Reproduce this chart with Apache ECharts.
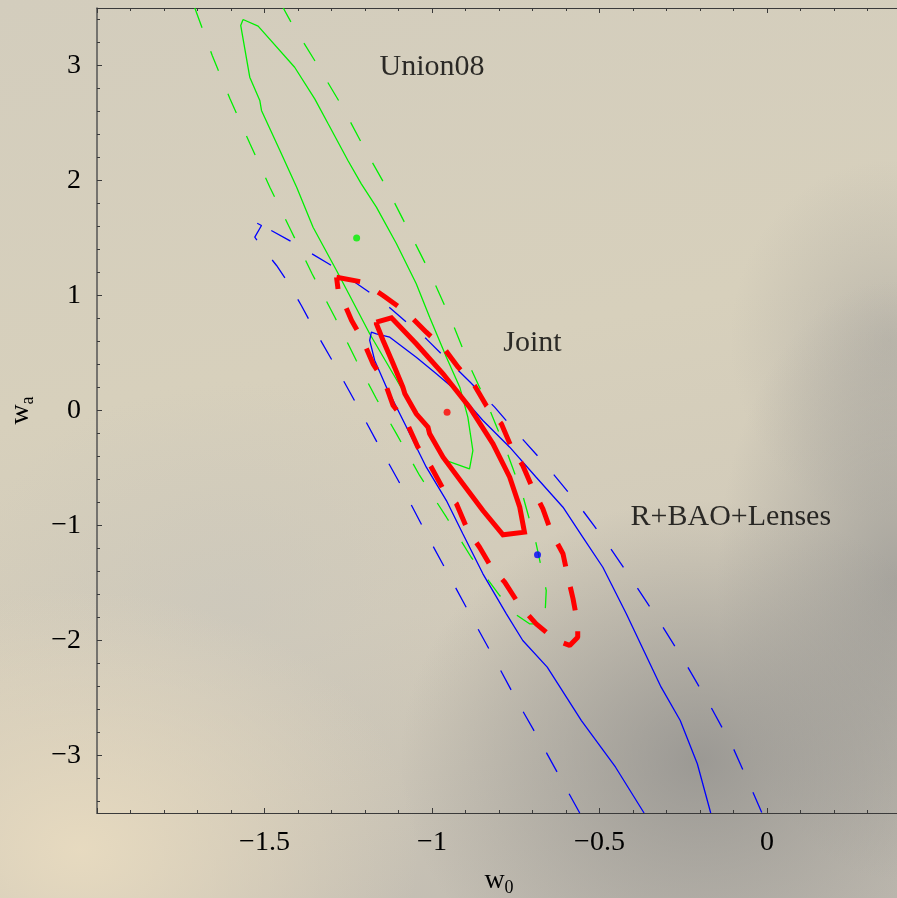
<!DOCTYPE html>
<html>
<head>
<meta charset="utf-8">
<script src="https://cdn.jsdelivr.net/npm/echarts@6/dist/echarts.min.js"></script>
<style>
html, body { margin: 0; padding: 0; }
#chart {
  width: 897px;
  height: 898px;
  background:
    radial-gradient(ellipse 300px 260px at 700px 760px, rgba(140,139,137,0.75), rgba(140,139,137,0)),
    radial-gradient(ellipse 180px 300px at 897px 580px, rgba(150,149,146,0.7), rgba(150,149,146,0)),
    radial-gradient(ellipse 160px 180px at 890px 340px, rgba(170,167,161,0.55), rgba(170,167,161,0)),
    radial-gradient(ellipse 340px 260px at 80px 850px, rgba(232,219,192,0.95), rgba(232,219,192,0)),
    radial-gradient(ellipse 260px 220px at 230px 600px, rgba(200,197,188,0.5), rgba(200,197,188,0)),
    linear-gradient(170deg, #d3cdbd 0%, #d7d0bc 40%, #d2cbba 65%, #c0bbb1 100%);
}
</style>
</head>
<body>
<div id="chart"></div>
<script>
// contours in (w0, wa)
const greenSolid = [
  [-1.564, 3.400], [-1.519, 3.342], [-1.410, 2.985], [-1.350, 2.710], [-1.310, 2.493],
  [-1.251, 2.174], [-1.211, 1.971], [-1.166, 1.768], [-1.106, 1.450], [-1.047, 1.102],
  [-1.007, 0.811], [-0.957, 0.463], [-0.917, 0.203], [-0.893, -0.058], [-0.878, -0.348],
  [-0.888, -0.507], [-0.957, -0.435], [-1.017, -0.145], [-1.087, 0.174], [-1.186, 0.667],
  [-1.285, 1.217], [-1.355, 1.594], [-1.404, 1.942], [-1.454, 2.261], [-1.509, 2.609],
  [-1.514, 2.696], [-1.544, 2.898], [-1.571, 3.348], [-1.564, 3.400]
]
const greenDashed = [
  [-1.708, 3.5], [-1.656, 3.087], [-1.603, 2.710], [-1.544, 2.324], [-1.484, 1.942],
  [-1.421, 1.565], [-1.358, 1.189], [-1.290, 0.811], [-1.226, 0.435], [-1.166, 0.102],
  [-1.106, -0.203], [-1.037, -0.565], [-0.957, -0.928], [-0.883, -1.276], [-0.798, -1.609],
  [-0.753, -1.768], [-0.709, -1.855], [-0.664, -1.855], [-0.659, -1.565], [-0.689, -1.159],
  [-0.729, -0.739], [-0.778, -0.348], [-0.833, 0.043], [-0.888, 0.391], [-0.942, 0.783],
  [-1.007, 1.203], [-1.067, 1.550], [-1.128, 1.898], [-1.201, 2.276], [-1.268, 2.643],
  [-1.343, 3.009], [-1.419, 3.368], [-1.444, 3.5]
]
const blueSolid = [
  [-0.367, -3.5], [-0.452, -3.102], [-0.554, -2.696], [-0.656, -2.232], [-0.729, -2.0],
  [-0.778, -1.768], [-0.848, -1.420], [-0.908, -1.072], [-0.957, -0.783], [-1.017, -0.493],
  [-1.076, -0.145], [-1.136, 0.203], [-1.171, 0.435], [-1.186, 0.609], [-1.181, 0.681],
  [-1.166, 0.667], [-1.126, 0.637], [-1.047, 0.463], [-0.987, 0.319], [-0.917, 0.145],
  [-0.848, -0.087], [-0.768, -0.319], [-0.689, -0.580], [-0.609, -0.841], [-0.550, -1.102],
  [-0.490, -1.363], [-0.420, -1.768], [-0.316, -2.406], [-0.259, -2.696], [-0.208, -3.072],
  [-0.168, -3.5]
]
const blueDashed = [
  [-0.559, -3.5], [-0.611, -3.226], [-0.673, -2.898], [-0.744, -2.537], [-0.812, -2.168],
  [-0.882, -1.797], [-0.952, -1.420], [-1.017, -1.072], [-1.087, -0.681], [-1.156, -0.319],
  [-1.226, 0.058], [-1.295, 0.420], [-1.355, 0.724], [-1.390, 0.913], [-1.424, 1.087],
  [-1.464, 1.261], [-1.509, 1.426], [-1.529, 1.507], [-1.509, 1.609], [-1.534, 1.646],
  [-1.489, 1.580], [-1.429, 1.484], [-1.365, 1.374], [-1.305, 1.270], [-1.245, 1.145],
  [-1.186, 1.026], [-1.126, 0.893], [-1.076, 0.768], [-1.017, 0.623], [-0.967, 0.478],
  [-0.888, 0.252], [-0.813, 0.029], [-0.744, -0.203], [-0.659, -0.478], [-0.565, -0.811],
  [-0.480, -1.145], [-0.398, -1.493], [-0.318, -1.850], [-0.242, -2.203], [-0.170, -2.565],
  [-0.102, -2.928], [-0.043, -3.313], [-0.015, -3.5]
]
const redSolid = [
  [-1.166, 0.768], [-1.121, 0.806], [-1.047, 0.580], [-0.967, 0.319], [-0.888, 0.029],
  [-0.818, -0.290], [-0.768, -0.580], [-0.738, -0.841], [-0.724, -1.058], [-0.788, -1.081],
  [-0.848, -0.870], [-0.908, -0.637], [-0.967, -0.406], [-1.007, -0.203], [-1.012, -0.145],
  [-1.047, -0.029], [-1.081, 0.145], [-1.087, 0.203], [-1.116, 0.406], [-1.146, 0.609],
  [-1.166, 0.754], [-1.166, 0.768]
]
const redDashed = [
  [-1.285, 1.159], [-1.206, 1.116], [-1.146, 1.0], [-1.091, 0.884], [-1.057, 0.797],
  [-1.017, 0.681], [-0.967, 0.551], [-0.922, 0.377], [-0.873, 0.217], [-0.838, 0.043],
  [-0.793, -0.116], [-0.763, -0.319], [-0.729, -0.478], [-0.699, -0.681], [-0.669, -0.855],
  [-0.644, -1.058], [-0.609, -1.246], [-0.594, -1.450], [-0.579, -1.637], [-0.565, -1.855],
  [-0.565, -1.971], [-0.589, -2.043], [-0.629, -2.0], [-0.689, -1.855], [-0.738, -1.696],
  [-0.783, -1.493], [-0.823, -1.363], [-0.858, -1.189], [-0.893, -1.043], [-0.927, -0.811],
  [-0.967, -0.681], [-1.002, -0.493], [-1.042, -0.319], [-1.076, -0.102], [-1.116, 0.043],
  [-1.141, 0.246], [-1.176, 0.406], [-1.206, 0.609], [-1.240, 0.783], [-1.270, 0.985],
  [-1.280, 1.043], [-1.285, 1.159]
]
// best fit points
const greenBest = [-1.225, 1.50]
const redBest = [-0.955, -0.015]
const blueBest = [-0.685, -1.255]

const annotations = [
  { name: 'Union08', value: [-1.0, 2.99] },
  { name: 'Joint', value: [-0.70, 0.59] },
  { name: 'R+BAO+Lenses', value: [-0.108, -0.93] }
]

const serif = "'Liberation Serif', 'Times New Roman', serif"
const minus = v => String(v).replace('-', '\u2212')

const chart = echarts.init(document.getElementById('chart'))

const xBase = {
  type: 'value',
  min: -2,
  max: 0.4,
  interval: 0.5,
  splitLine: { show: false },
  axisLine: { onZero: false, lineStyle: { color: '#3a3a3a', width: 1.2 } },
  axisTick: { inside: true, length: 5, lineStyle: { color: '#3a3a3a' } },
  minorTick: { show: true, splitNumber: 5, length: 3, lineStyle: { color: '#3a3a3a' } }
}

chart.setOption({
  animation: false,
  backgroundColor: 'transparent',
  grid: { left: 97, right: -4, top: 8, bottom: 85, containLabel: false, outerBoundsMode: 'none' },
  xAxis: [
    {
      ...xBase,
      position: 'bottom',
      name: 'w{s|0}',
      nameLocation: 'middle',
      nameGap: 52,
      nameTextStyle: {
        fontFamily: serif, fontSize: 28, color: '#000',
        rich: { s: { fontFamily: serif, fontSize: 18, color: '#000', padding: [14, 0, 0, 0] } }
      },
      axisLabel: {
        margin: 16,
        fontFamily: serif,
        fontSize: 28,
        color: '#000',
        formatter: v => (v <= -2 || Math.abs(v * 2 - Math.round(v * 2)) > 1e-6) ? '' : minus(v)
      }
    },
    {
      ...xBase,
      position: 'top',
      axisLabel: { show: false }
    }
  ],
  yAxis: {
    type: 'value',
    min: -3.5,
    max: 3.5,
    splitNumber: 7,
    name: 'w{s|a}',
    nameLocation: 'middle',
    nameGap: 60,
    nameTextStyle: {
      fontFamily: serif, fontSize: 28, color: '#000',
      rich: { s: { fontFamily: serif, fontSize: 18, color: '#000', padding: [14, 0, 0, 0] } }
    },
    splitLine: { show: false },
    axisLine: { onZero: false, lineStyle: { color: '#555', width: 1.5 } },
    axisTick: { inside: true, length: 5, lineStyle: { color: '#3a3a3a' } },
    minorTick: { show: true, splitNumber: 5, length: 3, lineStyle: { color: '#3a3a3a' } },
    axisLabel: {
      margin: 16,
      fontFamily: serif,
      fontSize: 28,
      color: '#000',
      formatter: v => Math.abs(v - Math.round(v)) > 1e-6 ? '' : minus(v)
    }
  },
  series: [
    { type: 'line', data: greenDashed, symbol: 'none', z: 2,
      lineStyle: { color: '#00f000', width: 1.3, type: [21, 25] } },
    { type: 'line', data: greenSolid, symbol: 'none', z: 2,
      lineStyle: { color: '#00f000', width: 1.3 } },
    { type: 'line', data: blueDashed, symbol: 'none', z: 3,
      lineStyle: { color: '#0000ff', width: 1.3, type: [22, 25] } },
    { type: 'line', data: blueSolid, symbol: 'none', z: 3,
      lineStyle: { color: '#0000ff', width: 1.3 } },
    { type: 'line', data: redDashed, symbol: 'none', z: 4,
      lineStyle: { color: '#ff0000', width: 5, type: [24, 21], cap: 'butt' } },
    { type: 'line', data: redSolid, symbol: 'none', z: 4,
      lineStyle: { color: '#ff0000', width: 5, join: 'miter' } },
    {
      type: 'scatter', symbolSize: 7, z: 5,
      data: [
        { value: greenBest, itemStyle: { color: '#00f000' } },
        { value: redBest, itemStyle: { color: '#ff0000' } },
        { value: blueBest, itemStyle: { color: '#0000ff' } }
      ]
    },
    {
      type: 'scatter', symbolSize: 0, z: 6,
      data: annotations,
      label: {
        show: true,
        position: 'inside',
        formatter: '{b}',
        fontFamily: serif,
        fontSize: 30,
        color: '#000'
      }
    }
  ]
})
</script>
</body>
</html>
